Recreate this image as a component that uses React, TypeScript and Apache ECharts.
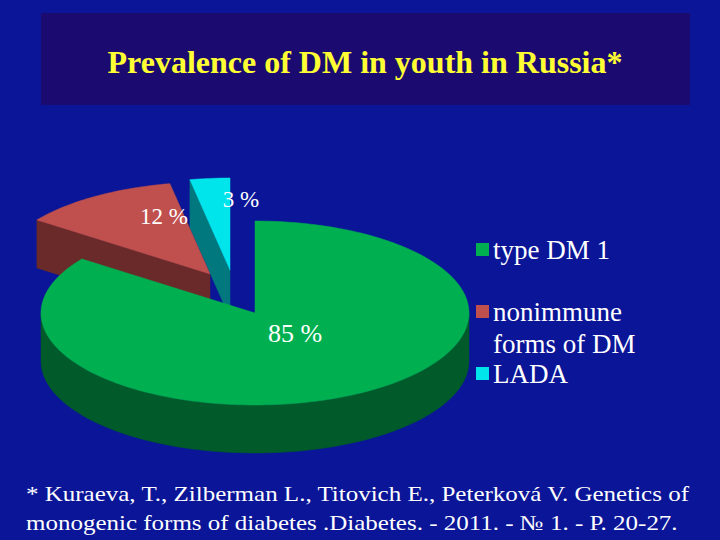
import { useEffect, useRef } from 'react';
import * as echarts from 'echarts';

// chart data
const categories = ['type DM 1', 'nonimmune\nforms of DM', 'LADA'];
const shares = [85, 12, 3];
const shareLabels = ['85 %', '12 %', '3 %'];

const titleText = 'Prevalence of DM in youth in Russia*';
const footnoteLines = [
  '* Kuraeva, T., Zilberman L., Titovich E., Peterková V. Genetics of',
  'monogenic forms of diabetes .Diabetes. - 2011. - № 1. - P. 20-27.',
];

// styling per slice
const topColors = ['#00b050', '#c0504d', '#00e4ec'];
const sideColors = ['#005a2a', '#6a2a2a', '#00787e'];
const explodeOffsets = [[0, 0], [-45, -39], [-25, -43]];
const labelOffsets = [[40, 20], [-46, -58], [11, -71]];
const labelSizes = [26, 23, 23];
const drawRank = [3, 2, 1];
const legendMiddles = [250, 312, 374];

const PIE = { cx: 255, cy: 313, rx: 214, ry: 92, depth: 48 };
const SERIF = 'Liberation Serif';
const BG = '#0a1597';

function sliceAngles(i: number): [number, number] {
  const total = shares.reduce((a, b) => a + b, 0);
  let before = 0;
  for (let j = 0; j < i; j++) before += shares[j];
  const a0 = Math.PI / 2 - (before / total) * Math.PI * 2;
  const a1 = a0 - (shares[i] / total) * Math.PI * 2;
  return [a0, a1];
}

function arcPoints(from: number, to: number, ox: number, oy: number, dz: number) {
  const n = Math.max(4, Math.ceil(Math.abs(from - to) / (Math.PI / 120)));
  const pts: number[][] = [];
  for (let k = 0; k <= n; k++) {
    const t = from + ((to - from) * k) / n;
    pts.push([PIE.cx + ox + PIE.rx * Math.cos(t), PIE.cy + oy - PIE.ry * Math.sin(t) + dz]);
  }
  return pts;
}

function textStyle(text: string, size: number, align: string, vAlign: string, extra: any = {}) {
  return {
    text,
    fill: '#ffffff',
    fontFamily: SERIF,
    fontSize: size,
    align,
    verticalAlign: vAlign,
    ...extra,
  };
}

function renderSlice(params: any, api: any) {
  const i = params.dataIndex;
  api.value(0);
  const [a0, a1] = sliceAngles(i);
  const [ox, oy] = explodeOffsets[i];
  const tip = [PIE.cx + ox, PIE.cy + oy];
  const tipLow = [tip[0], tip[1] + PIE.depth];
  const base = drawRank[i] * 10;
  const children: any[] = [];
  const side = { fill: sideColors[i], stroke: sideColors[i], lineWidth: 0.5 };

  // front part of the curved wall
  for (let k = -2; k <= 1; k++) {
    const lo = Math.max(a1, -Math.PI + 2 * Math.PI * k);
    const hi = Math.min(a0, 2 * Math.PI * k);
    if (hi - lo > 1e-4) {
      const top = arcPoints(hi, lo, ox, oy, 0);
      const bottom = arcPoints(hi, lo, ox, oy, PIE.depth).reverse();
      children.push({ type: 'polygon', z2: base, shape: { points: top.concat(bottom) }, style: side });
    }
  }

  // cut faces facing the viewer
  const faces: number[] = [];
  if (Math.cos(a0) < -1e-6) faces.push(a0);
  if (Math.cos(a1) > 1e-6) faces.push(a1);
  faces.forEach((a) => {
    const p = [PIE.cx + ox + PIE.rx * Math.cos(a), PIE.cy + oy - PIE.ry * Math.sin(a)];
    children.push({
      type: 'polygon',
      z2: base,
      shape: { points: [tip, p, [p[0], p[1] + PIE.depth], tipLow] },
      style: side,
    });
  });

  // top face
  children.push({
    type: 'polygon',
    z2: base + 1,
    shape: { points: [tip].concat(arcPoints(a0, a1, ox, oy, 0)) },
    style: { fill: topColors[i], stroke: topColors[i], lineWidth: 0.5 },
  });

  children.push({
    type: 'text',
    z2: 100,
    x: tip[0] + labelOffsets[i][0],
    y: tip[1] + labelOffsets[i][1],
    style: textStyle(shareLabels[i], labelSizes[i], 'center', 'middle'),
  });

  return { type: 'group', children };
}

export default function App() {
  const chartRef = useRef<HTMLDivElement>(null);

  useEffect(() => {
    if (!chartRef.current) return;
    const chart = echarts.init(chartRef.current, null, { renderer: 'svg' });

    const legendItems: any[] = [];
    categories.forEach((name, i) => {
      legendItems.push({
        type: 'rect',
        shape: { x: 476, y: legendMiddles[i] - 7, width: 13, height: 13 },
        style: { fill: topColors[i] },
      });
      legendItems.push({
        type: 'text',
        x: 493,
        y: legendMiddles[i] - 16,
        style: textStyle(name, 27, 'left', 'top', { lineHeight: 32 }),
      });
    });

    const option: echarts.EChartsOption = {
      animation: false,
      backgroundColor: BG,
      graphic: [
        {
          type: 'rect',
          shape: { x: 41, y: 13, width: 649, height: 92 },
          style: { fill: '#1b0b70' },
        },
        {
          type: 'text',
          x: 365,
          y: 62,
          style: textStyle(titleText, 32, 'center', 'middle', { fill: '#ffff33', fontWeight: 'bold' }),
        },
        ...legendItems,
        ...footnoteLines.map((line, i) => ({
          type: 'text',
          x: 26,
          y: 494 + i * 29,
          scaleX: 1.19,
          style: textStyle(line, 21, 'left', 'middle'),
        })),
      ],
      series: [
        {
          type: 'custom',
          coordinateSystem: 'none',
          renderItem: renderSlice as any,
          data: shares.map((v, i) => ({ value: v, name: categories[i] })),
        },
      ],
    };

    chart.setOption(option);
    return () => {
      chart.dispose();
    };
  }, []);

  return (
    <div
      ref={chartRef}
      style={{ position: 'fixed', left: 0, top: 0, width: '720px', height: '540px' }}
    ></div>
  );
}
